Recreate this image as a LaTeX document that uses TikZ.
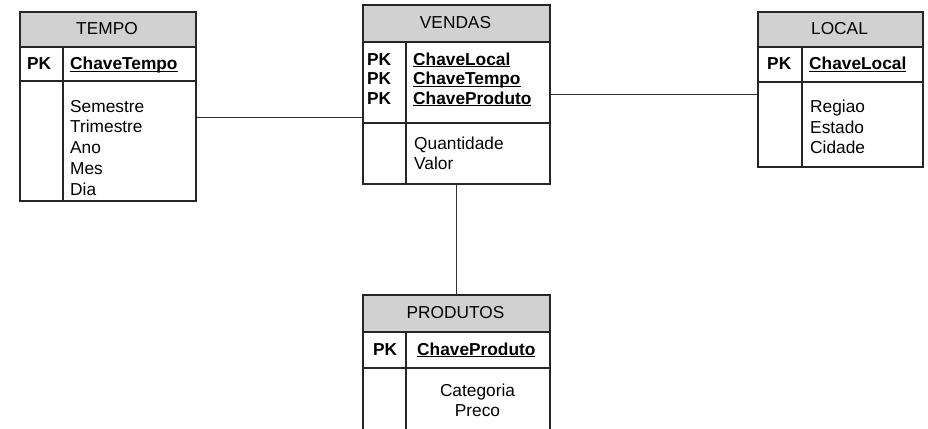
\documentclass[tikz,border=0pt]{standalone}
\usepackage{fontspec}
\setmainfont{Liberation Sans}
\newcommand{\keyul}[1]{{\setbox0\hbox{\bfseries #1}\rlap{\rule[-2.4pt]{\wd0}{1.3pt}}\box0}}
\begin{document}
\begin{tikzpicture}[x=1pt,y=-1pt,
  tbl/.style={draw=black!85, line width=1.6pt, inner sep=0, anchor=north west},
  hdr/.style={draw=black!85, line width=1.6pt, fill=black!18, inner sep=0, anchor=north west},
  sep/.style={draw=black!85, line width=1.6pt},
  conn/.style={draw=black!80, line width=1pt},
  txt/.style={inner sep=0, anchor=base west, font=\fontsize{17.3}{20}\selectfont},
  ttl/.style={inner sep=0, anchor=base, font=\fontsize{17.3}{20}\selectfont},
  pk/.style={inner sep=0, anchor=base west, font=\fontsize{17.3}{20}\selectfont\bfseries}
]
\useasboundingbox (0,0) rectangle (928,428);
\clip (0,0) rectangle (928,428);

% ---------- TEMPO ----------
\node[tbl, minimum width=176pt, minimum height=189pt] (tempo) at (19,11) {};
\node[hdr, minimum width=176pt, minimum height=35pt] (tempoH) at (19,11) {};
\draw[sep] (19,81) -- (195,81);
\draw[sep] (63,46) -- (63,200);
\node[ttl] (tempoT) at (107,34.5) {TEMPO};
\node[pk] (tempoPK) at (27,69.5) {PK};
\node[txt] (tempoK) at (70,69.5) {\keyul{ChaveTempo}};
\node[txt] (t1) at (70,112) {Semestre};
\node[txt] (t2) at (70,132.8) {Trimestre};
\node[txt] (t3) at (70,153.6) {Ano};
\node[txt] (t4) at (70,174.4) {Mes};
\node[txt] (t5) at (70,195.2) {Dia};

% ---------- VENDAS ----------
\node[tbl, minimum width=187pt, minimum height=179pt] (vendas) at (362,4) {};
\node[hdr, minimum width=187pt, minimum height=37pt] (vendasH) at (362,4) {};
\draw[sep] (362,123) -- (549,123);
\draw[sep] (406,41) -- (406,183);
\node[ttl] (vendasT) at (455.5,28.5) {VENDAS};
\node[pk] (vpk1) at (367,65) {PK};
\node[pk] (vpk2) at (367,84.5) {PK};
\node[pk] (vpk3) at (367,104) {PK};
\node[txt] (vk1) at (413,65) {\keyul{ChaveLocal}};
\node[txt] (vk2) at (413,84.5) {\keyul{ChaveTempo}};
\node[txt] (vk3) at (413,104) {\keyul{ChaveProduto}};
\node[txt] (va1) at (414,149.3) {Quantidade};
\node[txt] (va2) at (414,169.3) {Valor};

% ---------- LOCAL ----------
\node[tbl, minimum width=165pt, minimum height=155pt] (local) at (757,11) {};
\node[hdr, minimum width=165pt, minimum height=35pt] (localH) at (757,11) {};
\draw[sep] (757,82) -- (922,82);
\draw[sep] (802,46) -- (802,166);
\node[ttl] (localT) at (839.5,34.5) {LOCAL};
\node[pk] (localPK) at (767,69.5) {PK};
\node[txt] (localK) at (809,69.5) {\keyul{ChaveLocal}};
\node[txt] (l1) at (810,112.5) {Regiao};
\node[txt] (l2) at (810,133) {Estado};
\node[txt] (l3) at (810,153.5) {Cidade};

% ---------- PRODUTOS ----------
\node[tbl, minimum width=187pt, minimum height=150pt] (produtos) at (362,294) {};
\node[hdr, minimum width=187pt, minimum height=37pt] (produtosH) at (362,294) {};
\draw[sep] (362,368) -- (549,368);
\draw[sep] (406,331) -- (406,444);
\node[ttl] (produtosT) at (455.5,318.5) {PRODUTOS};
\node[pk] (produtosPK) at (373,355) {PK};
\node[txt] (produtosK) at (417,355) {\keyul{ChaveProduto}};
\node[ttl] (p1) at (477.5,396.5) {Categoria};
\node[ttl] (p2) at (477.5,416.5) {Preco};

% ---------- connectors ----------
\draw[conn] (tempo.east |- 0,117.5) -- (vendas.west |- 0,117.5);
\draw[conn] (vendas.east |- 0,94) -- (local.west |- 0,94);
\draw[conn] (vendas.south) -- (produtos.north);
\end{tikzpicture}
\end{document}
